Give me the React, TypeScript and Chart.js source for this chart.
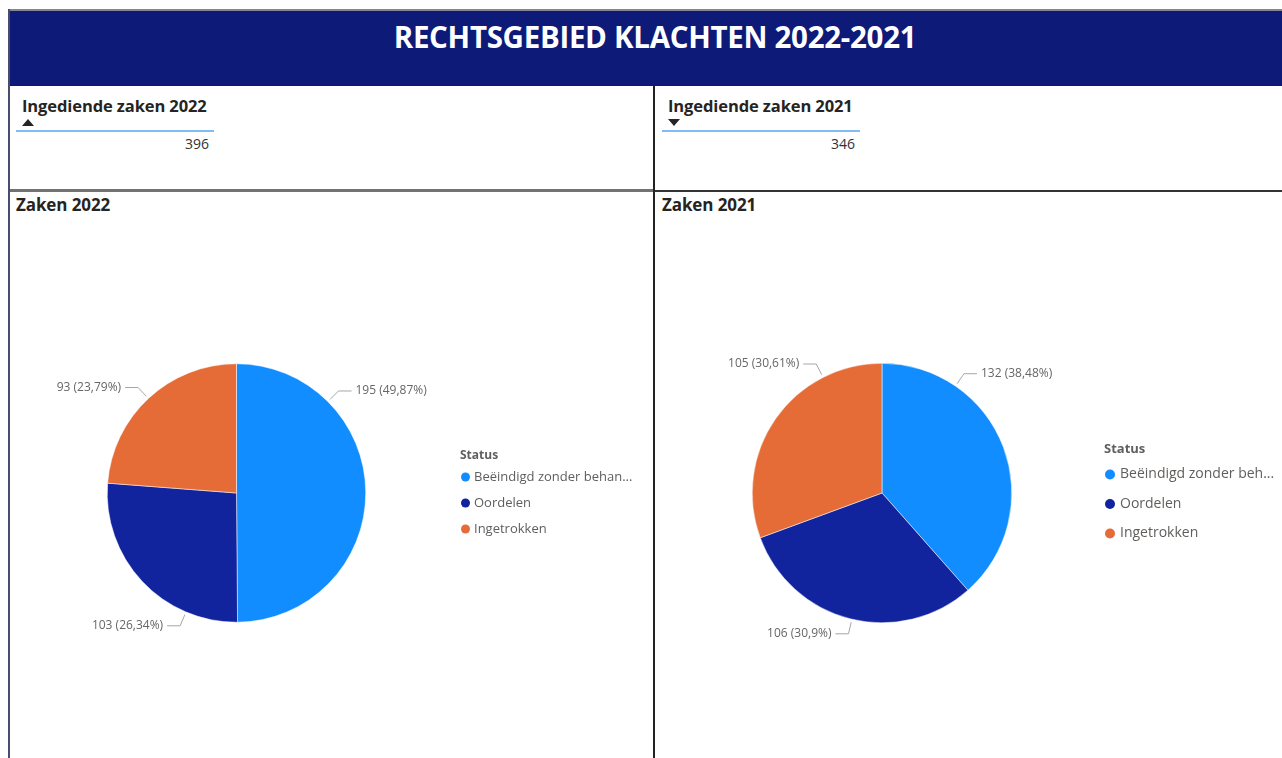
import React, { useEffect, useRef } from 'react';
import { Chart, registerables } from 'chart.js';

Chart.register(...registerables);

const headerTitle = 'RECHTSGEBIED KLACHTEN 2022-2021';
const categories = ['Beëindigd zonder behandeling', 'Oordelen', 'Ingetrokken'];
const values2022 = [195, 103, 93];
const values2021 = [132, 106, 105];
const kpiTitles = ['Ingediende zaken 2022', 'Ingediende zaken 2021'];
const kpiValues = [396, 346];
const kpiTrendUp = [true, false];
const chartTitles = ['Zaken 2022', 'Zaken 2021'];
const legendTitle = 'Status';
const sliceColors = ['#118DFF', '#12239E', '#E66C37'];

const FONT = '"Open Sans", "Noto Sans", sans-serif';

const pbiPlugin = {
  id: 'pbi',
  afterDraw(chart: any, _args: any, opts: any) {
    const ctx = chart.ctx as CanvasRenderingContext2D;
    const meta = chart.getDatasetMeta(0);
    const ds = chart.data.datasets[0];
    const data = ds.data as number[];
    const total = data.reduce((a, b) => a + b, 0);
    ctx.save();
    meta.data.forEach((arc: any, i: number) => {
      const { x, y, outerRadius } = arc.getProps(['x', 'y', 'outerRadius'], true);
      const deg = opts.labelAngles[i];
      const a = ((deg - 90) * Math.PI) / 180;
      const c = Math.cos(a);
      const s = Math.sin(a);
      const x1 = x + c * (outerRadius + 3);
      const y1 = y + s * (outerRadius + 3);
      const x2 = x + c * (outerRadius + 15);
      const y2 = y + s * (outerRadius + 15);
      const dir = c >= 0 ? 1 : -1;
      const x3 = x2 + dir * 13;
      ctx.strokeStyle = '#a6a6a6';
      ctx.lineWidth = 1;
      ctx.beginPath();
      ctx.moveTo(x1, y1);
      ctx.lineTo(x2, y2);
      ctx.lineTo(x3, y2);
      ctx.stroke();
      const pct = Number(((data[i] / total) * 100).toFixed(2)).toString().replace('.', ',');
      ctx.font = opts.labelFont;
      ctx.fillStyle = '#666666';
      ctx.textAlign = dir > 0 ? 'left' : 'right';
      ctx.textBaseline = 'middle';
      ctx.fillText(`${data[i]} (${pct}%)`, x3 + dir * 4, y2);
    });

    const L = opts.legend;
    ctx.textAlign = 'left';
    ctx.textBaseline = 'middle';
    ctx.font = L.titleFont;
    ctx.fillStyle = '#5f5f5f';
    ctx.fillText(L.title, L.x, L.y);
    (chart.data.labels as string[]).forEach((lab, i) => {
      const yy = L.y + L.firstGap + i * L.spacing;
      ctx.fillStyle = ds.backgroundColor[i];
      ctx.beginPath();
      ctx.arc(L.x + L.r + 1, yy, L.r, 0, Math.PI * 2);
      ctx.fill();
      ctx.font = L.itemFont;
      ctx.fillStyle = '#605E5C';
      let text = lab;
      const tx = L.x + L.textOffset;
      const maxW = L.maxRight - tx;
      if (ctx.measureText(text).width > maxW) {
        while (text.length && ctx.measureText(text + '...').width > maxW) text = text.slice(0, -1);
        text = text + '...';
      }
      ctx.fillText(text, tx, yy);
    });
    ctx.restore();
  },
};

function PieChart(props: {
  values: number[];
  padding: { left: number; right: number; top: number; bottom: number };
  labelAngles: number[];
  legend: any;
  labelFont: string;
}) {
  const ref = useRef<HTMLCanvasElement | null>(null);
  useEffect(() => {
    if (!ref.current) return;
    const chart = new Chart(ref.current, {
      type: 'pie',
      data: {
        labels: categories,
        datasets: [
          {
            data: props.values,
            backgroundColor: sliceColors,
            borderColor: '#ffffff',
            borderWidth: 0.5,
          },
        ],
      },
      options: {
        animation: false,
        responsive: false,
        maintainAspectRatio: false,
        layout: { padding: props.padding },
        plugins: {
          legend: { display: false },
          tooltip: { enabled: false },
          title: { display: false },
          pbi: { labelAngles: props.labelAngles, legend: props.legend, labelFont: props.labelFont },
        } as any,
      },
      plugins: [pbiPlugin as any],
    });
    return () => chart.destroy();
  }, []);
  return <canvas ref={ref} width={props.legend.w} height={565} style={{ display: 'block' }} />;
}

const abs = (s: React.CSSProperties): React.CSSProperties => ({ position: 'absolute', ...s });

function Triangle({ up, left, top }: { up: boolean; left: number; top: number }) {
  return (
    <div
      style={abs({
        left,
        top,
        width: 0,
        height: 0,
        borderLeft: '6px solid transparent',
        borderRight: '6px solid transparent',
        ...(up ? { borderBottom: '7px solid #252423' } : { borderTop: '7px solid #252423' }),
      })}
    />
  );
}

export default function App() {
  return (
    <div
      style={{
        position: 'fixed',
        left: 0,
        top: 0,
        width: 1282,
        height: 758,
        overflow: 'hidden',
        background: '#ffffff',
        fontFamily: FONT,
      }}
    >
      {/* frame lines */}
      <div style={abs({ left: 8, top: 9, width: 1274, height: 2, background: '#85859a' })} />
      <div style={abs({ left: 8, top: 9, width: 2, height: 749, background: '#4b4b6b' })} />
      {/* header */}
      <div style={abs({ left: 10, top: 11, width: 1272, height: 74, background: '#0E1A78' })} />
      <div style={abs({ left: 10, top: 85, width: 1272, height: 1, background: '#1c1c3a' })} />
      <div
        style={abs({
          left: 10,
          top: 16,
          width: 1290,
          textAlign: 'center',
          color: '#ffffff',
          fontWeight: 700,
          fontSize: 29.5,
          lineHeight: '42px',
          letterSpacing: -0.3,
          whiteSpace: 'nowrap',
        })}
      >
        {headerTitle}
      </div>
      {/* dividers */}
      <div style={abs({ left: 653, top: 86, width: 2, height: 672, background: '#222222' })} />
      <div style={abs({ left: 10, top: 189, width: 643, height: 3, background: '#727272' })} />
      <div style={abs({ left: 655, top: 190, width: 627, height: 2, background: '#333333' })} />

      {/* KPI panels */}
      {[0, 1].map((i) => {
        const ox = i === 0 ? 0 : 646;
        return (
          <React.Fragment key={i}>
            <div
              style={abs({
                left: 22 + ox,
                top: 95,
                fontSize: 16.5,
                fontWeight: 700,
                color: '#252423',
                lineHeight: '22px',
                whiteSpace: 'nowrap',
                letterSpacing: -0.1,
              })}
            >
              {kpiTitles[i]}
            </div>
            <Triangle up={kpiTrendUp[i]} left={22 + ox} top={119} />
            <div style={abs({ left: 16 + ox, top: 130, width: 198, height: 1.5, background: '#7fbdf4' })} />
            <div
              style={abs({
                left: 16 + ox,
                top: 134,
                width: 193,
                textAlign: 'right',
                fontSize: 14,
                lineHeight: '20px',
                color: '#333333',
              })}
            >
              {kpiValues[i]}
            </div>
            <div
              style={abs({
                left: 16 + ox,
                top: 194,
                fontSize: 17,
                fontWeight: 700,
                color: '#252423',
                lineHeight: '22px',
                letterSpacing: -0.1,
              })}
            >
              {chartTitles[i]}
            </div>
          </React.Fragment>
        );
      })}

      {/* charts */}
      <div style={abs({ left: 10, top: 193 })}>
        <PieChart
          values={values2022}
          padding={{ left: 97, top: 170, right: 287, bottom: 135 }}
          labelAngles={[45, 203, 317]}
          labelFont={`12px ${FONT}`}
          legend={{
            w: 643,
            title: legendTitle,
            x: 450,
            y: 263,
            firstGap: 21,
            spacing: 26,
            r: 4.5,
            textOffset: 14,
            maxRight: 630,
            titleFont: `bold 12px ${FONT}`,
            itemFont: `13px ${FONT}`,
          }}
        />
      </div>
      <div style={abs({ left: 656, top: 193 })}>
        <PieChart
          values={values2021}
          padding={{ left: 96, top: 170, right: 270, bottom: 135 }}
          labelAngles={[34.5, 193.4, 333]}
          labelFont={`12px ${FONT}`}
          legend={{
            w: 626,
            title: legendTitle,
            x: 448,
            y: 256,
            firstGap: 25.5,
            spacing: 29.5,
            r: 5,
            textOffset: 16,
            maxRight: 620,
            titleFont: `bold 13px ${FONT}`,
            itemFont: `14px ${FONT}`,
          }}
        />
      </div>
    </div>
  );
}
